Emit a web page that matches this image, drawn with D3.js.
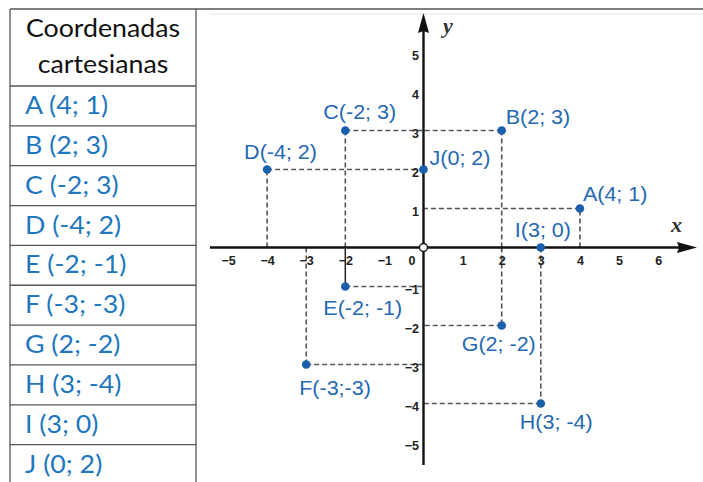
<!DOCTYPE html>
<html><head><meta charset="utf-8">
<script src="https://cdn.jsdelivr.net/npm/d3@7"></script>
<style>
html,body{margin:0;padding:0;background:#fff;}
svg{display:block;}
</style></head>
<body>
<svg id="c" width="703" height="482"></svg>
<script>
// ---- data ----
const pointNames = ["A","B","C","D","E","F","G","H","I","J"];
const pointX = [4, 2, -2, -4, -2, -3, 2, 3, 3, 0];
const pointY = [1, 3, 3, 2, -1, -3, -2, -4, 0, 2];
const pointLabels = ["A(4; 1)","B(2; 3)","C(-2; 3)","D(-4; 2)","E(-2; -1)","F(-3;-3)","G(2; -2)","H(3; -4)","I(3; 0)","J(0; 2)"];
const tableHeader = ["Coordenadas","cartesianas"];
const tableRows = ["A (4; 1)","B (2; 3)","C (-2; 3)","D (-4; 2)","E (-2; -1)","F (-3; -3)","G (2; -2)","H (3; -4)","I (3; 0)","J (0; 2)"];
const xTicks = [-5,-4,-3,-2,-1,1,2,3,4,5,6];
const yTicks = [-5,-4,-3,-2,-1,1,2,3,4,5];

// ---- layout ----
const svg = d3.select("#c");
const x0 = 423.5, y0 = 247.5, ux = 39.1, uy = 39.0;
const x = d3.scaleLinear().domain([-5, 6]).range([x0 - 5*ux, x0 + 6*ux]);
const y = d3.scaleLinear().domain([-5, 5]).range([y0 + 5*uy, y0 - 5*uy]);

const blueTxt = "#1f77c0", bluePt = "#1b5fab", blueLbl = "#2568b3";

// ---- table ----
const tL = 10, tR = 196, tTop = 9, headBottom = 86, rowH = 39.85;
const tbl = svg.append("g");
tbl.append("line").attr("x1", tL).attr("x2", 703).attr("y1", tTop).attr("y2", tTop)
  .attr("stroke", "#555").attr("stroke-width", 1.6);
tbl.append("line").attr("x1", 210).attr("x2", 703).attr("y1", 14).attr("y2", 14)
  .attr("stroke", "#e4e4e4").attr("stroke-width", 1.2);
[tL, tR].forEach(v => tbl.append("line").attr("x1", v).attr("x2", v).attr("y1", tTop).attr("y2", 482)
  .attr("stroke", "#555").attr("stroke-width", 1.3));
const rowTops = tableRows.map((d, i) => headBottom + i*rowH);
tbl.selectAll("line.row").data(rowTops).join("line").attr("class","row")
  .attr("x1", tL).attr("x2", tR).attr("y1", d => d).attr("y2", d => d)
  .attr("stroke", "#555").attr("stroke-width", 1.3);
tbl.selectAll("text.h").data(tableHeader).join("text").attr("class","h")
  .attr("transform", (d,i) => `translate(${(tL+tR)/2},${36.5 + i*36.5}) scale(1.07,1)`)
  .attr("text-anchor","middle").attr("font-family","Lato").attr("font-size", 25)
  .attr("fill","#111").text(d => d);
tbl.selectAll("text.r").data(tableRows).join("text").attr("class","r")
  .attr("transform", (d,i) => `translate(25,${rowTops[i] + 28}) scale(1.07,1)`)
  .attr("font-family","Lato").attr("font-size", 25)
  .attr("fill", blueTxt).text(d => d);

// ---- guides ----
const g = svg.append("g");
const pts = pointNames.map((n, i) => ({n, x: pointX[i], y: pointY[i], label: pointLabels[i]}));
pts.forEach(p => {
  if (p.x !== 0 && p.y !== 0) {
    const solid = p.n === "E";
    g.append("line").attr("x1", x(p.x)).attr("x2", x(p.x)).attr("y1", y(0)).attr("y2", y(p.y))
      .attr("stroke", solid ? "#222" : "#555").attr("stroke-width", solid ? 1.5 : 1.6)
      .attr("stroke-dasharray", solid ? null : "5,3");
    g.append("line").attr("x1", x(p.x)).attr("x2", x(0)).attr("y1", y(p.y)).attr("y2", y(p.y))
      .attr("stroke", "#555").attr("stroke-width", 1.6).attr("stroke-dasharray", "5,3");
  }
});

// ---- tick labels ----
const xAxis = d3.axisBottom(x).tickValues(xTicks).tickSize(0).tickPadding(8.6);
const ax = svg.append("g").attr("transform", `translate(0,${y(0)})`).call(xAxis);
ax.select(".domain").remove();
ax.selectAll("text").attr("font-family","Liberation Sans, Arial").attr("font-size", 12.5)
  .attr("font-weight","bold").attr("fill","#222");
const yAxis = d3.axisLeft(y).tickValues(yTicks).tickSize(0).tickPadding(4.5);
const ay = svg.append("g").attr("transform", `translate(${x(0)},0)`).call(yAxis);
ay.select(".domain").remove();
ay.selectAll("text").attr("font-family","Liberation Sans, Arial").attr("font-size", 12.5)
  .attr("font-weight","bold").attr("fill","#222").attr("dy","0.56em");
svg.append("text").attr("x", x(0) - 11.5).attr("y", y(0) + 17.5).attr("text-anchor","middle")
  .attr("font-family","Liberation Sans, Arial").attr("font-size", 12.5).attr("font-weight","bold")
  .attr("fill","#222").text("0");

// ---- axes with arrows ----
const axG = svg.append("g");
axG.append("line").attr("x1", 210).attr("x2", 685).attr("y1", y(0)).attr("y2", y(0))
  .attr("stroke","#111").attr("stroke-width", 2.4);
axG.append("path").attr("d", `M697,${y(0)} L677,${y(0)-5.5} L679,${y(0)} L677,${y(0)+5.5} Z`).attr("fill","#111");
axG.append("line").attr("x1", x(0)).attr("x2", x(0)).attr("y1", 465).attr("y2", 25)
  .attr("stroke","#111").attr("stroke-width", 2.4);
axG.append("path").attr("d", `M${x(0)},13 L${x(0)-5.5},33 L${x(0)},31 L${x(0)+5.5},33 Z`).attr("fill","#111");
svg.append("text").attr("x", 443).attr("y", 33).attr("font-family","Liberation Serif, DejaVu Serif")
  .attr("font-style","italic").attr("font-weight","bold").attr("font-size", 22).attr("fill","#333").text("y");
svg.append("text").attr("x", 671).attr("y", 232).attr("font-family","Liberation Serif, DejaVu Serif")
  .attr("font-style","italic").attr("font-weight","bold").attr("font-size", 22).attr("fill","#333").text("x");

// ---- points ----
svg.append("circle").attr("cx", x(0)).attr("cy", y(0)).attr("r", 4)
  .attr("fill","#fff").attr("stroke","#111").attr("stroke-width", 1.4);
svg.selectAll("circle.pt").data(pts).join("circle").attr("class","pt")
  .attr("cx", d => x(d.x)).attr("cy", d => y(d.y)).attr("r", 4.3).attr("fill", bluePt);

// label placement (offsets in px from each point)
const labelOffset = {A:[3,-8], B:[4,-7], C:[-22,-12], D:[-23,-11], E:[-22,28], F:[-7,30], G:[-40,25], H:[-21,25], I:[-26,-11], J:[6,-5]};
svg.selectAll("text.pl").data(pts).join("text").attr("class","pl")
  .attr("transform", d => `translate(${x(d.x) + labelOffset[d.n][0]},${y(d.y) + labelOffset[d.n][1]}) scale(1.05,1)`)
  .attr("font-family","Liberation Sans, Arial").attr("font-size", 20.5)
  .attr("fill", blueLbl).text(d => d.label);
</script>
</body></html>
